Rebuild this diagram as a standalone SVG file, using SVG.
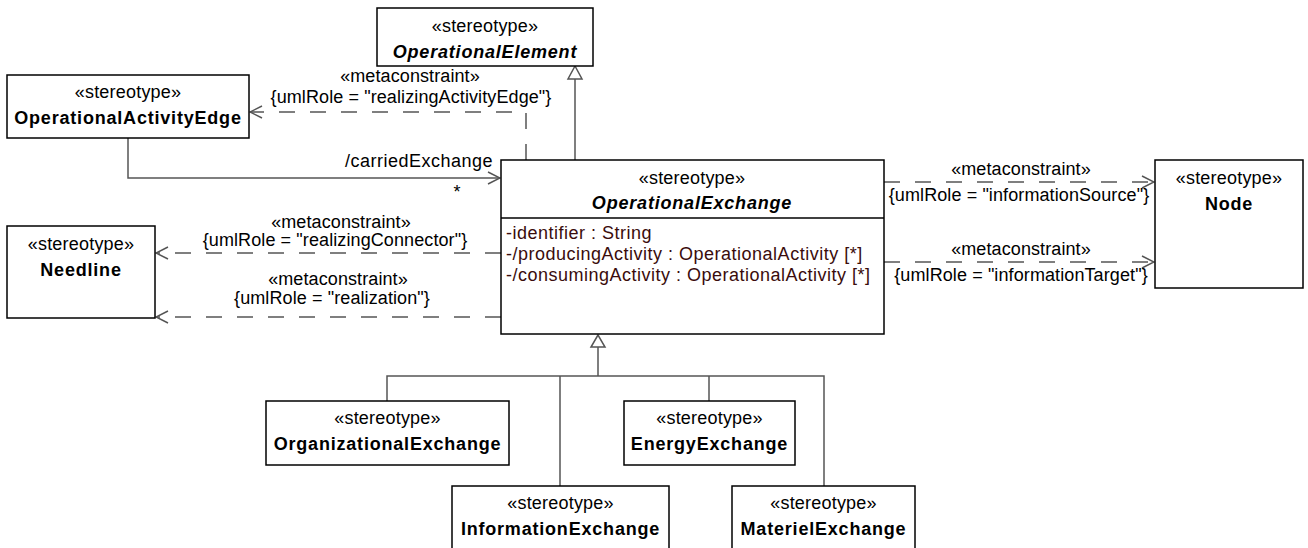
<svg xmlns="http://www.w3.org/2000/svg" width="1308" height="548" viewBox="0 0 1308 548">
<style>
text{font-family:"Liberation Sans",Arial,sans-serif;font-size:18px;fill:#000;}
.st{text-anchor:middle;letter-spacing:0.2px;}
.nm{text-anchor:middle;font-weight:bold;letter-spacing:0.8px;}
.it{font-style:italic;}
.lb{text-anchor:middle;letter-spacing:0.1px;}
.at{fill:#3a0c0c;letter-spacing:0.5px;}
.box{fill:#fff;stroke:#000;stroke-width:1.5;}
.ln{fill:none;stroke:#555;stroke-width:1.5;}
.dl{fill:none;stroke:#555;stroke-width:1.5;stroke-dasharray:16 15;}
.tri{fill:#fff;stroke:#555;stroke-width:1.5;}
</style>
<defs>
<marker id="open" viewBox="0 0 14 14" refX="13" refY="7" markerWidth="14" markerHeight="14" markerUnits="userSpaceOnUse" orient="auto">
<path d="M1,1 L13,7 L1,13" fill="none" stroke="#555" stroke-width="1.5"/>
</marker>
</defs>
<g id="connectors">
<path class="ln" d="M575,79 L575,160"/>
<path class="tri" d="M575,66 L568,79 L582,79 Z"/>
<path class="dl" d="M526,160 L526,112 L250,112" marker-end="url(#open)"/>
<path class="ln" d="M128,138 L128,178 L500,178" marker-end="url(#open)"/>
<path class="dl" d="M501,253 L156,253" marker-end="url(#open)"/>
<path class="dl" d="M501,317 L156,317" marker-end="url(#open)"/>
<path class="dl" d="M884,182 L1154,182" marker-end="url(#open)"/>
<path class="dl" d="M884,262 L1154,262" marker-end="url(#open)"/>
<path class="ln" d="M598,347 L598,376 M387,401 L387,376 L824,376 L824,486 M560,376 L560,486 M709,376 L709,401"/>
<path class="tri" d="M598,335 L591,347 L605,347 Z"/>
<text x="493" y="167" style="text-anchor:end;letter-spacing:0.5px">/carriedExchange</text>
<text x="457" y="198" style="text-anchor:middle">*</text>
<text class="lb" x="410" y="82">«metaconstraint»</text>
<text class="lb" x="411" y="103">{umlRole = "realizingActivityEdge"}</text>
<text class="lb" x="341" y="228">«metaconstraint»</text>
<text class="lb" x="335" y="246">{umlRole = "realizingConnector"}</text>
<text class="lb" x="338" y="285">«metaconstraint»</text>
<text class="lb" x="332" y="304">{umlRole = "realization"}</text>
<text class="lb" x="1021" y="175">«metaconstraint»</text>
<text class="lb" x="1019" y="201">{umlRole = "informationSource"}</text>
<text class="lb" x="1021" y="255">«metaconstraint»</text>
<text class="lb" x="1021" y="281">{umlRole = "informationTarget"}</text>
</g>
<g id="OperationalElement">
<rect class="box" x="377" y="8" width="216" height="58"/>
<text class="st" x="485" y="32">«stereotype»</text>
<text class="nm it" x="485" y="58">OperationalElement</text>
</g>
<g id="OperationalActivityEdge">
<rect class="box" x="7" y="75" width="242" height="63"/>
<text class="st" x="128" y="98">«stereotype»</text>
<text class="nm" x="128" y="124">OperationalActivityEdge</text>
</g>
<g id="OperationalExchange">
<rect class="box" x="501" y="160" width="383" height="174"/>
<line x1="501" y1="218" x2="884" y2="218" stroke="#000" stroke-width="1.5"/>
<text class="st" x="692" y="184">«stereotype»</text>
<text class="nm it" x="692" y="209">OperationalExchange</text>
<text class="at" x="506" y="239">-identifier : String</text>
<text class="at" x="506" y="260">-/producingActivity : OperationalActivity [*]</text>
<text class="at" x="506" y="281">-/consumingActivity : OperationalActivity [*]</text>
</g>
<g id="Needline">
<rect class="box" x="7" y="226" width="148" height="92"/>
<text class="st" x="81" y="250">«stereotype»</text>
<text class="nm" x="81" y="276">Needline</text>
</g>
<g id="Node">
<rect class="box" x="1155" y="160" width="148" height="128"/>
<text class="st" x="1229" y="184">«stereotype»</text>
<text class="nm" x="1229" y="210">Node</text>
</g>
<g id="OrganizationalExchange">
<rect class="box" x="266" y="401" width="243" height="64"/>
<text class="st" x="387.5" y="424">«stereotype»</text>
<text class="nm" x="387.5" y="450">OrganizationalExchange</text>
</g>
<g id="EnergyExchange">
<rect class="box" x="624" y="401" width="171" height="64"/>
<text class="st" x="709.5" y="424">«stereotype»</text>
<text class="nm" x="709.5" y="450">EnergyExchange</text>
</g>
<g id="InformationExchange">
<rect class="box" x="452" y="486" width="217" height="70"/>
<text class="st" x="560.5" y="509">«stereotype»</text>
<text class="nm" x="560.5" y="535">InformationExchange</text>
</g>
<g id="MaterielExchange">
<rect class="box" x="732" y="486" width="183" height="70"/>
<text class="st" x="823.5" y="509">«stereotype»</text>
<text class="nm" x="823.5" y="535">MaterielExchange</text>
</g>
</svg>
